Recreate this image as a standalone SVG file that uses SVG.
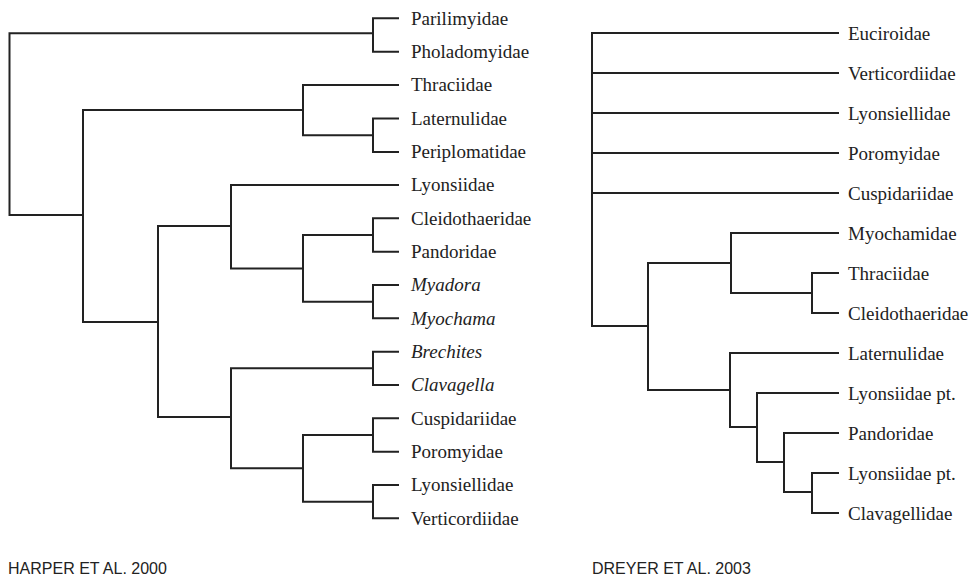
<svg xmlns="http://www.w3.org/2000/svg" width="975" height="578" viewBox="0 0 975 578">
  <style>
    .br { fill: none; stroke: #222; stroke-width: 2; stroke-linecap: square; }
    .tx { font-family: "Liberation Serif", "Times New Roman", serif; font-size: 19px; fill: #222; }
    .it { font-style: italic; }
    .cap { font-family: "Liberation Sans", Arial, sans-serif; font-size: 16px; fill: #222; }
  </style>
  <rect width="975" height="578" fill="#fff"/>

  <!-- Tree 1: branches -->
  <g id="connectors-harper" class="br">
    <!-- root -->
    <path d="M373,33.3 H9.5 V215 H83"/>
    <!-- Parilimyidae + Pholadomyidae -->
    <path d="M398,18.3 H373 V51.7 H398"/>
    <!-- node A -->
    <path d="M303,110 H83 V322 H158"/>
    <!-- Thraciidae clade -->
    <path d="M398,85 H303 V135.3 H373"/>
    <path d="M398,118.5 H373 V152 H398"/>
    <!-- node 158 -->
    <path d="M231,226 H158 V417 H231"/>
    <!-- Lyonsiidae clade -->
    <path d="M398,185 H231 V268.5 H303"/>
    <path d="M373,235 H303 V301.7 H373"/>
    <path d="M398,218.3 H373 V251.7 H398"/>
    <path d="M398,285 H373 V318.3 H398"/>
    <!-- Brechites clade -->
    <path d="M373,368.3 H231 V468.3 H303"/>
    <path d="M398,351.7 H373 V385 H398"/>
    <path d="M373,435 H303 V501.7 H373"/>
    <path d="M398,418.3 H373 V451.7 H398"/>
    <path d="M398,485 H373 V518.3 H398"/>
  </g>

  <!-- Tree 1: taxa -->
  <g id="taxa-harper" class="tx">
    <text id="parilimyidae" x="411" y="24.6">Parilimyidae</text>
    <text id="pholadomyidae" x="411" y="58">Pholadomyidae</text>
    <text id="thraciidae-1" x="411" y="91.3">Thraciidae</text>
    <text id="laternulidae-1" x="411" y="124.8">Laternulidae</text>
    <text id="periplomatidae" x="411" y="158.3">Periplomatidae</text>
    <text id="lyonsiidae-1" x="411" y="191.3">Lyonsiidae</text>
    <text id="cleidothaeridae-1" x="411" y="224.6">Cleidothaeridae</text>
    <text id="pandoridae-1" x="411" y="258">Pandoridae</text>
    <text id="myadora" class="it" x="411" y="291.3">Myadora</text>
    <text id="myochama" class="it" x="411" y="324.6">Myochama</text>
    <text id="brechites" class="it" x="411" y="358">Brechites</text>
    <text id="clavagella" class="it" x="411" y="391.3">Clavagella</text>
    <text id="cuspidariidae-1" x="411" y="424.6">Cuspidariidae</text>
    <text id="poromyidae-1" x="411" y="458">Poromyidae</text>
    <text id="lyonsiellidae-1" x="411" y="491.3">Lyonsiellidae</text>
    <text id="verticordiidae-1" x="411" y="524.6">Verticordiidae</text>
  </g>
  <text id="caption-harper" class="cap" x="8" y="574">HARPER ET AL. 2000</text>

  <!-- Tree 2: branches -->
  <g id="connectors-dreyer" class="br">
    <!-- basal polytomy -->
    <path d="M838,33 H592 V326 H648"/>
    <path d="M592,73 H838"/>
    <path d="M592,113 H838"/>
    <path d="M592,153 H838"/>
    <path d="M592,193 H838"/>
    <!-- node B -->
    <path d="M731,263 H648 V390 H730"/>
    <!-- Myochamidae clade -->
    <path d="M838,233 H731 V293 H812"/>
    <path d="M838,273 H812 V313 H838"/>
    <!-- Laternulidae clade -->
    <path d="M838,353 H730 V427 H757"/>
    <path d="M838,393 H757 V462 H784"/>
    <path d="M838,433 H784 V492 H812"/>
    <path d="M838,473 H812 V513 H838"/>
  </g>

  <!-- Tree 2: taxa -->
  <g id="taxa-dreyer" class="tx">
    <text id="euciroidae" x="848" y="39.5">Euciroidae</text>
    <text id="verticordiidae-2" x="848" y="79.5">Verticordiidae</text>
    <text id="lyonsiellidae-2" x="848" y="119.5">Lyonsiellidae</text>
    <text id="poromyidae-2" x="848" y="159.5">Poromyidae</text>
    <text id="cuspidariidae-2" x="848" y="199.5">Cuspidariidae</text>
    <text id="myochamidae" x="848" y="239.5">Myochamidae</text>
    <text id="thraciidae-2" x="848" y="279.5">Thraciidae</text>
    <text id="cleidothaeridae-2" x="848" y="319.5">Cleidothaeridae</text>
    <text id="laternulidae-2" x="848" y="359.5">Laternulidae</text>
    <text id="lyonsiidae-pt-1" x="848" y="399.5">Lyonsiidae pt.</text>
    <text id="pandoridae-2" x="848" y="439.5">Pandoridae</text>
    <text id="lyonsiidae-pt-2" x="848" y="479.5">Lyonsiidae pt.</text>
    <text id="clavagellidae" x="848" y="519.5">Clavagellidae</text>
  </g>
  <text id="caption-dreyer" class="cap" x="592" y="574">DREYER ET AL. 2003</text>
</svg>
